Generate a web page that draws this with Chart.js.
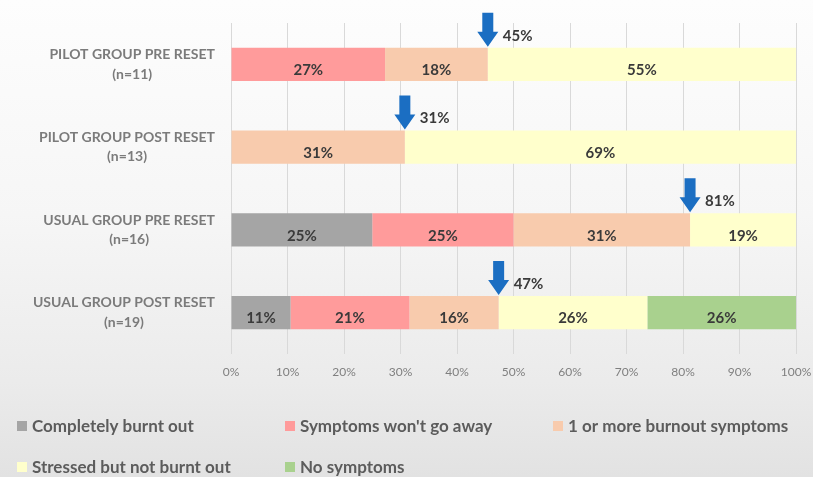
<!DOCTYPE html>
<html>
<head>
<meta charset="utf-8">
<script src="https://cdn.jsdelivr.net/npm/chart.js@4.4.1/dist/chart.umd.min.js"></script>
<style>
  html, body { margin: 0; padding: 0; }
  body {
    width: 813px; height: 477px; overflow: hidden;
    background: linear-gradient(180deg, #fdfdfd 0%, #f6f6f6 45%, #ebebeb 80%, #e2e2e2 100%);
  }
  #wrap { position: relative; width: 813px; height: 477px; }
</style>
</head>
<body>
<div id="wrap"><canvas id="chart"></canvas></div>
<script>
// ── data ────────────────────────────────────────────────────
const categories = [
  ['PILOT GROUP PRE RESET', '(n=11)'],
  ['PILOT GROUP POST RESET', '(n=13)'],
  ['USUAL GROUP PRE RESET', '(n=16)'],
  ['USUAL GROUP POST RESET', '(n=19)'],
];
const seriesNames = [
  'Completely burnt out',
  "Symptoms won't go away",
  '1 or more burnout symptoms',
  'Stressed but not burnt out',
  'No symptoms',
];
const seriesColors = ['#a5a5a5', '#ff9b9b', '#f8cbad', '#ffffcc', '#a9d18e'];

const completelyBurntOut  = [0,     0,     25,    10.53];
const symptomsWontGoAway  = [27.27, 0,     25,    21.05];
const oneOrMoreSymptoms   = [18.18, 30.77, 31.25, 15.79];
const stressedNotBurntOut = [54.55, 69.23, 18.75, 26.32];
const noSymptoms          = [0,     0,     0,     26.32];

const xTickLabels = ['0%', '10%', '20%', '30%', '40%', '50%', '60%', '70%', '80%', '90%', '100%'];

// arrows mark the share with at least one burnout symptom (first three series)
const burnoutSeries = [completelyBurntOut, symptomsWontGoAway, oneOrMoreSymptoms];

const FONT = 'Lato, "Open Sans", sans-serif';

// ── overlays: value labels, arrows, category labels, legend ──
const overlays = {
  id: 'overlays',
  afterDatasetsDraw(chart) {
    const ctx = chart.ctx;
    const xs = chart.scales.x, ys = chart.scales.y;
    ctx.save();

    // value labels in each segment
    ctx.font = `bold 15px ${FONT}`;
    ctx.fillStyle = '#3a3a3a';
    ctx.textAlign = 'center';
    ctx.textBaseline = 'middle';
    chart.data.datasets.forEach((ds, di) => {
      const meta = chart.getDatasetMeta(di);
      meta.data.forEach((el, i) => {
        const v = ds.data[i];
        if (!v) return;
        ctx.fillText(Math.round(v) + '%', (el.x + el.base) / 2, el.y + 6);
      });
    });

    // blue arrows with cumulative burnout share
    categories.forEach((_, i) => {
      const cum = burnoutSeries.reduce((s, arr) => s + arr[i], 0);
      const px = xs.getPixelForValue(cum);
      const el = chart.getDatasetMeta(0).data[i];
      const top = el.y - el.height / 2;
      const tipY = top - 1, headH = 15, headW = 21, shaftW = 11, totalH = 34;
      ctx.fillStyle = '#1b6ec2';
      ctx.beginPath();
      ctx.moveTo(px, tipY);
      ctx.lineTo(px - headW / 2, tipY - headH);
      ctx.lineTo(px - shaftW / 2, tipY - headH);
      ctx.lineTo(px - shaftW / 2, tipY - totalH);
      ctx.lineTo(px + shaftW / 2, tipY - totalH);
      ctx.lineTo(px + shaftW / 2, tipY - headH);
      ctx.lineTo(px + headW / 2, tipY - headH);
      ctx.closePath();
      ctx.fill();
      ctx.fillStyle = '#3a3a3a';
      ctx.font = `bold 15px ${FONT}`;
      ctx.textAlign = 'left';
      ctx.fillText(Math.round(cum) + '%', px + 15, top - 12);
    });

    // category labels: block right-aligned, lines centred to each other
    ctx.font = `bold 14px ${FONT}`;
    ctx.fillStyle = '#7b7b7b';
    ctx.textAlign = 'center';
    categories.forEach((lines, i) => {
      const cy = ys.getPixelForValue(i);
      const w = Math.max(...lines.map(l => ctx.measureText(l).width));
      const cx = 215 - w / 2;
      lines.forEach((l, k) => ctx.fillText(l, cx, cy + (k - (lines.length - 1) / 2) * 19.5));
    });

    // legend, 3 columns x 2 rows
    ctx.font = `bold 17px ${FONT}`;
    ctx.textAlign = 'left';
    seriesNames.forEach((name, k) => {
      const col = k % 3, row = Math.floor(k / 3);
      const bx = 17 + col * 268, cy = 426 + row * 41;
      ctx.fillStyle = seriesColors[k];
      ctx.fillRect(bx, cy - 5, 10, 10);
      ctx.fillStyle = '#5c5c5c';
      ctx.fillText(name, bx + 15, cy + 1);
    });

    ctx.restore();
  },
};

const seriesData = [completelyBurntOut, symptomsWontGoAway, oneOrMoreSymptoms, stressedNotBurntOut, noSymptoms];

new Chart(document.getElementById('chart'), {
  type: 'bar',
  data: {
    labels: categories,
    datasets: seriesNames.map((name, k) => ({
      label: name,
      data: seriesData[k],
      backgroundColor: seriesColors[k],
      borderWidth: 0,
      categoryPercentage: 0.8,
      barPercentage: 0.5,
    })),
  },
  options: {
    indexAxis: 'y',
    responsive: true,
    maintainAspectRatio: false,
    animation: false,
    layout: { padding: { top: 23, right: 17, bottom: 0, left: 0 } },
    plugins: { legend: { display: false }, tooltip: { enabled: false } },
    scales: {
      x: {
        stacked: true, min: 0, max: 100,
        ticks: {
          stepSize: 10, padding: 11, color: '#7f7f7f',
          font: { family: FONT, size: 12 },
          callback: (v, i) => xTickLabels[i],
        },
        grid: { color: '#d9d9d9', drawTicks: false },
        border: { display: false },
        afterFit(s) { s.height = 123; s.paddingLeft = 0; s.paddingRight = 0; },
      },
      y: {
        stacked: true,
        ticks: { display: false },
        grid: { display: false },
        border: { display: false },
        afterFit(s) { s.width = 231; s.paddingTop = 0; s.paddingBottom = 0; },
      },
    },
  },
  plugins: [overlays],
});
</script>
</body>
</html>
